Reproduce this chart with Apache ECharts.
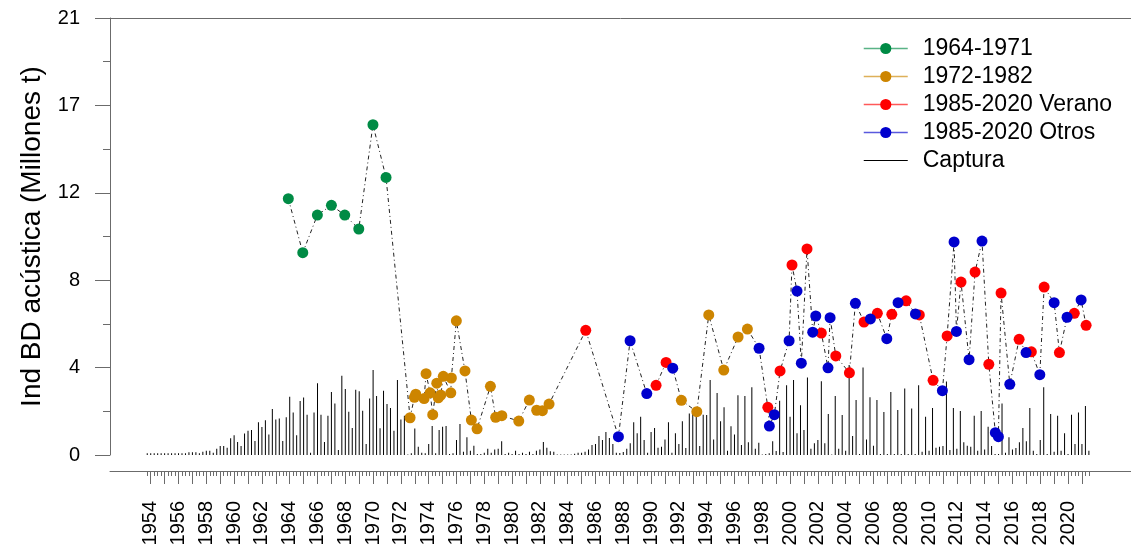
<!DOCTYPE html>
<html>
<head>
<meta charset="utf-8">
<script src="https://cdn.jsdelivr.net/npm/echarts@6.0.0/dist/echarts.min.js"></script>
<style>
  html, body { margin: 0; padding: 0; background: #fff; }
  #chart { width: 1131px; height: 558px; }
</style>
</head>
<body>
<div id="chart"></div>
<script>
// grupos de la serie acustica: [año decimal, Ind BD]
const g6471 = [[1963.90, 12.32], [1964.94, 9.72], [1965.99, 11.53], [1967.00, 12.00], [1967.96, 11.53],
  [1968.97, 10.86], [1969.99, 15.87], [1970.93, 13.34]];

const g7282 = [[1972.66, 1.79], [1972.97, 2.77], [1973.07, 2.92], [1973.67, 2.71], [1973.81, 3.91],
  [1974.10, 2.99], [1974.29, 1.94], [1974.58, 3.45], [1974.69, 2.75], [1974.87, 2.88], [1975.05, 3.78],
  [1975.59, 2.99], [1975.63, 3.70], [1975.99, 6.45], [1976.61, 4.04], [1977.07, 1.68], [1977.48, 1.26],
  [1978.44, 3.30], [1978.82, 1.81], [1979.26, 1.89], [1980.48, 1.63], [1981.24, 2.64], [1981.77, 2.15],
  [1982.18, 2.13], [1982.66, 2.45],
  [1992.18, 2.63], [1993.29, 2.08], [1994.15, 6.73], [1995.23, 4.08], [1996.26, 5.67], [1996.93, 6.05]];

const verano = [[1985.30, 5.99], [1990.36, 3.35], [1991.08, 4.45], [1998.40, 2.29], [1999.28, 4.04],
  [2000.14, 9.13], [2001.22, 9.90], [2002.25, 5.86], [2003.29, 4.76], [2004.27, 3.95], [2005.32, 6.39],
  [2006.28, 6.81], [2007.32, 6.76], [2008.35, 7.41], [2009.30, 6.73], [2010.29, 3.59], [2011.30, 5.72],
  [2012.30, 8.31], [2013.31, 8.79], [2014.30, 4.36], [2015.18, 7.78], [2016.48, 5.56], [2017.36, 4.96],
  [2018.28, 8.07], [2019.38, 4.92], [2020.45, 6.81], [2021.30, 6.23]];

const otros = [[1987.65, 0.88], [1988.49, 5.49], [1989.69, 2.95], [1991.56, 4.17], [1997.77, 5.13],
  [1998.51, 1.39], [1998.87, 1.94], [1999.93, 5.49], [2000.50, 7.88], [2000.81, 4.41], [2001.63, 5.90],
  [2001.85, 6.68], [2002.73, 4.19], [2002.88, 6.60], [2004.70, 7.29], [2005.78, 6.54], [2006.96, 5.59],
  [2007.77, 7.32], [2009.02, 6.78], [2010.96, 3.09], [2011.80, 10.24], [2011.97, 5.94], [2012.88, 4.58],
  [2013.81, 10.28], [2014.77, 1.07], [2014.99, 0.88], [2015.81, 3.40], [2016.98, 4.92], [2017.97, 3.86],
  [2019.00, 7.32], [2019.93, 6.62], [2020.94, 7.45]];

// captura trimestral (escalada), desde 1953.75 cada 0.25 años
const capturaInicio = 1953.75;
const capturaPaso = 0.25;
const captura = [
  0.08, 0.08, 0.08, 0.08, 0.08, 0.08, 0.08, 0.08, 0.08, 0.08,
  0.08, 0.08, 0.13, 0.13, 0.13, 0.08, 0.16, 0.21, 0.21, 0.11,
  0.30, 0.43, 0.43, 0.35, 0.80, 0.95, 0.62, 0.43, 1.03, 1.17,
  1.20, 0.67, 1.57, 1.35, 1.67, 0.98, 2.21, 1.71, 1.75, 0.67,
  1.81, 2.80, 2.04, 0.95, 2.60, 2.76, 1.94, 0.11, 2.04, 3.45,
  1.94, 0.62, 1.89, 3.03, 2.48, 0.24, 3.81, 3.17, 2.08, 1.30,
  3.13, 3.06, 2.13, 0.53, 2.71, 4.09, 2.84, 1.28,
  3.09, 2.45, 2.26, 1.17, 3.61, 1.71, 1.89, 0.03, 0.08, 1.27,
  0.40, 0.11, 0.08, 0.53, 1.39, 0.08, 1.20, 1.36, 1.39, 0.05,
  0.08, 0.72, 1.49, 0.16, 0.85, 0.21, 0.45, 0.05, 0.05, 0.11,
  0.30, 0.11, 0.27, 0.30, 0.66, 0.05, 0.11, 0.05, 0.21, 0.05,
  0.11, 0.05, 0.16, 0.05, 0.21, 0.26, 0.63, 0.35, 0.18, 0.16,
  0.03, 0.03, 0.03, 0.03, 0.03, 0.06, 0.11, 0.11, 0.16, 0.27,
  0.48, 0.53, 0.91, 0.72, 1.10, 0.82, 0.53, 0.11,
  0.10, 0.15, 0.30, 0.56, 1.57, 1.04, 1.84, 0.72, 0.11, 1.10,
  1.30, 0.35, 0.40, 0.75, 1.57, 0.11, 1.04, 0.53, 1.62, 0.34,
  2.00, 2.04, 2.13, 0.43, 1.94, 1.92, 3.61, 0.75, 2.98, 1.62,
  2.29, 0.21, 1.38, 0.98, 2.87, 0.48, 2.84, 0.61, 3.25, 0.30,
  0.59, 0.03, 0.05, 0.08, 0.66, 0.19, 2.61, 0.14, 3.35, 1.84,
  3.61, 1.04, 2.39, 1.20, 3.73, 0.30, 0.56, 0.72, 3.54, 0.56,
  1.97, 0.02, 2.84, 0.30, 1.92, 0.21,
  4.33, 0.91, 2.64, 0.05, 4.21, 0.75, 2.77, 0.45, 2.64, 0.05,
  2.07, 0.05, 3.03, 0.05, 2.16, 0.05, 3.20, 0.05, 2.23, 0.05,
  3.35, 0.16, 1.84, 0.21, 2.26, 0.35, 0.40, 0.43, 3.53, 0.24,
  2.26, 0.30, 2.12, 0.61, 0.45, 0.40, 1.89, 0.21, 2.12, 0.27,
  1.36, 0.43, 0.05, 0.05, 2.48, 0.11, 0.85, 0.27, 0.34, 0.61,
  1.30, 0.66, 2.26, 0.21, 0.05, 0.72, 3.25, 0.05, 1.97, 0.16,
  1.89, 0.21, 1.04, 0.05, 1.94, 0.53, 2.04, 0.53, 2.36, 0.21
];

// etiquetas de ejes
const yTickLabels = ['0', '4', '8', '12', '17', '21'];
const xLabelYears = [1954, 1956, 1958, 1960, 1962, 1964, 1966, 1968, 1970, 1972, 1974, 1976, 1978, 1980,
  1982, 1984, 1986, 1988, 1990, 1992, 1994, 1996, 1998, 2000, 2002, 2004, 2006, 2008, 2010, 2012, 2014,
  2016, 2018, 2020];

const fuente = "'Liberation Sans', Arial, sans-serif";
const ejeColor = '#6b6b6b';
const xMin = 1951.07;
const xMax = 2024.53;

// ticks de años y trimestres
const yearTicks = [];
for (let y = 1954; y <= 2021; y++) yearTicks.push(y);
const quarterTicks = [];
for (let q = 1953.75; q <= 2021.5; q += 0.25) {
  if (Math.abs(q - Math.round(q)) > 0.01) quarterTicks.push(q);
}

const capturaData = captura.map((v, i) => [capturaInicio + i * capturaPaso, v]);
const todos = [].concat(g6471, g7282, verano, otros).sort((a, b) => a[0] - b[0]);

function grupo(name, data, color) {
  return {
    name: name,
    type: 'line',
    data: data,
    symbol: 'circle',
    symbolSize: 11,
    itemStyle: { color: color },
    lineStyle: { opacity: 0 },
    emphasis: { disabled: true },
    z: 4
  };
}

const chart = echarts.init(document.getElementById('chart'));
const option = {
  animation: false,
  backgroundColor: '#fff',
  textStyle: { fontFamily: fuente },
  grid: { left: 110, right: 0, top: 18, bottom: 103 },
  legend: {
    orient: 'vertical',
    left: 858,
    top: 32,
    itemWidth: 44,
    itemHeight: 14,
    itemGap: 5,
    selectedMode: false,
    textStyle: { fontSize: 23, lineHeight: 23, color: '#000', fontFamily: fuente, padding: [0, 0, 0, 10] },
    lineStyle: { width: 1.5, opacity: 0.65 },
    data: ['1964-1971', '1972-1982', '1985-2020 Verano', '1985-2020 Otros',
      { name: 'Captura', icon: 'path://M0,0 L44,0 L44,1.2 L0,1.2 Z' }]
  },
  xAxis: [
    {
      type: 'value',
      min: xMin,
      max: xMax,
      position: 'bottom',
      offset: 16,
      axisLine: { show: true, onZero: false, lineStyle: { color: ejeColor, width: 1 } },
      axisTick: { show: true, customValues: yearTicks, length: 13, lineStyle: { color: ejeColor } },
      axisLabel: {
        customValues: xLabelYears,
        rotate: 90,
        margin: 30,
        fontSize: 20,
        color: '#000',
        fontFamily: fuente,
        formatter: function (v) { return String(Math.round(v)); }
      },
      splitLine: { show: false }
    },
    {
      type: 'value',
      min: xMin,
      max: xMax,
      position: 'bottom',
      offset: 16,
      axisLine: { show: false, onZero: false },
      axisTick: { show: true, customValues: quarterTicks, length: 5, lineStyle: { color: ejeColor } },
      axisLabel: { show: false },
      splitLine: { show: false }
    },
    {
      type: 'value',
      min: xMin,
      max: xMax,
      position: 'top',
      axisLine: { show: true, onZero: false, lineStyle: { color: ejeColor, width: 1 } },
      axisTick: { show: false },
      axisLabel: { show: false },
      splitLine: { show: false }
    }
  ],
  yAxis: {
    type: 'value',
    min: 0,
    max: 21,
    interval: 4.2,
    name: 'Ind BD acústica (Millones t)',
    nameLocation: 'middle',
    nameGap: 64,
    nameTextStyle: { fontSize: 28, color: '#000', fontFamily: fuente },
    axisLine: { show: true, lineStyle: { color: ejeColor, width: 1 } },
    axisTick: { show: true, length: 15, lineStyle: { color: ejeColor } },
    minorTick: { show: true, splitNumber: 2, length: 7, lineStyle: { color: ejeColor } },
    axisLabel: {
      margin: 30,
      fontSize: 20,
      color: '#000',
      fontFamily: fuente,
      formatter: function (v, i) { return yTickLabels[i]; }
    },
    splitLine: { show: false }
  },
  series: [
    {
      name: 'Captura',
      type: 'bar',
      data: capturaData,
      barWidth: 1,
      itemStyle: { color: '#000' },
      emphasis: { disabled: true },
      silent: true,
      z: 1
    },
    {
      name: 'enlace',
      type: 'line',
      data: todos,
      symbol: 'none',
      lineStyle: { color: '#222', width: 1, type: [4, 3, 1, 3] },
      emphasis: { disabled: true },
      silent: true,
      z: 2
    },
    grupo('1964-1971', g6471, '#008B45'),
    grupo('1972-1982', g7282, '#CD8500'),
    grupo('1985-2020 Verano', verano, '#FF0000'),
    grupo('1985-2020 Otros', otros, '#0000CD')
  ]
};
option && chart.setOption(option);
</script>
</body>
</html>
